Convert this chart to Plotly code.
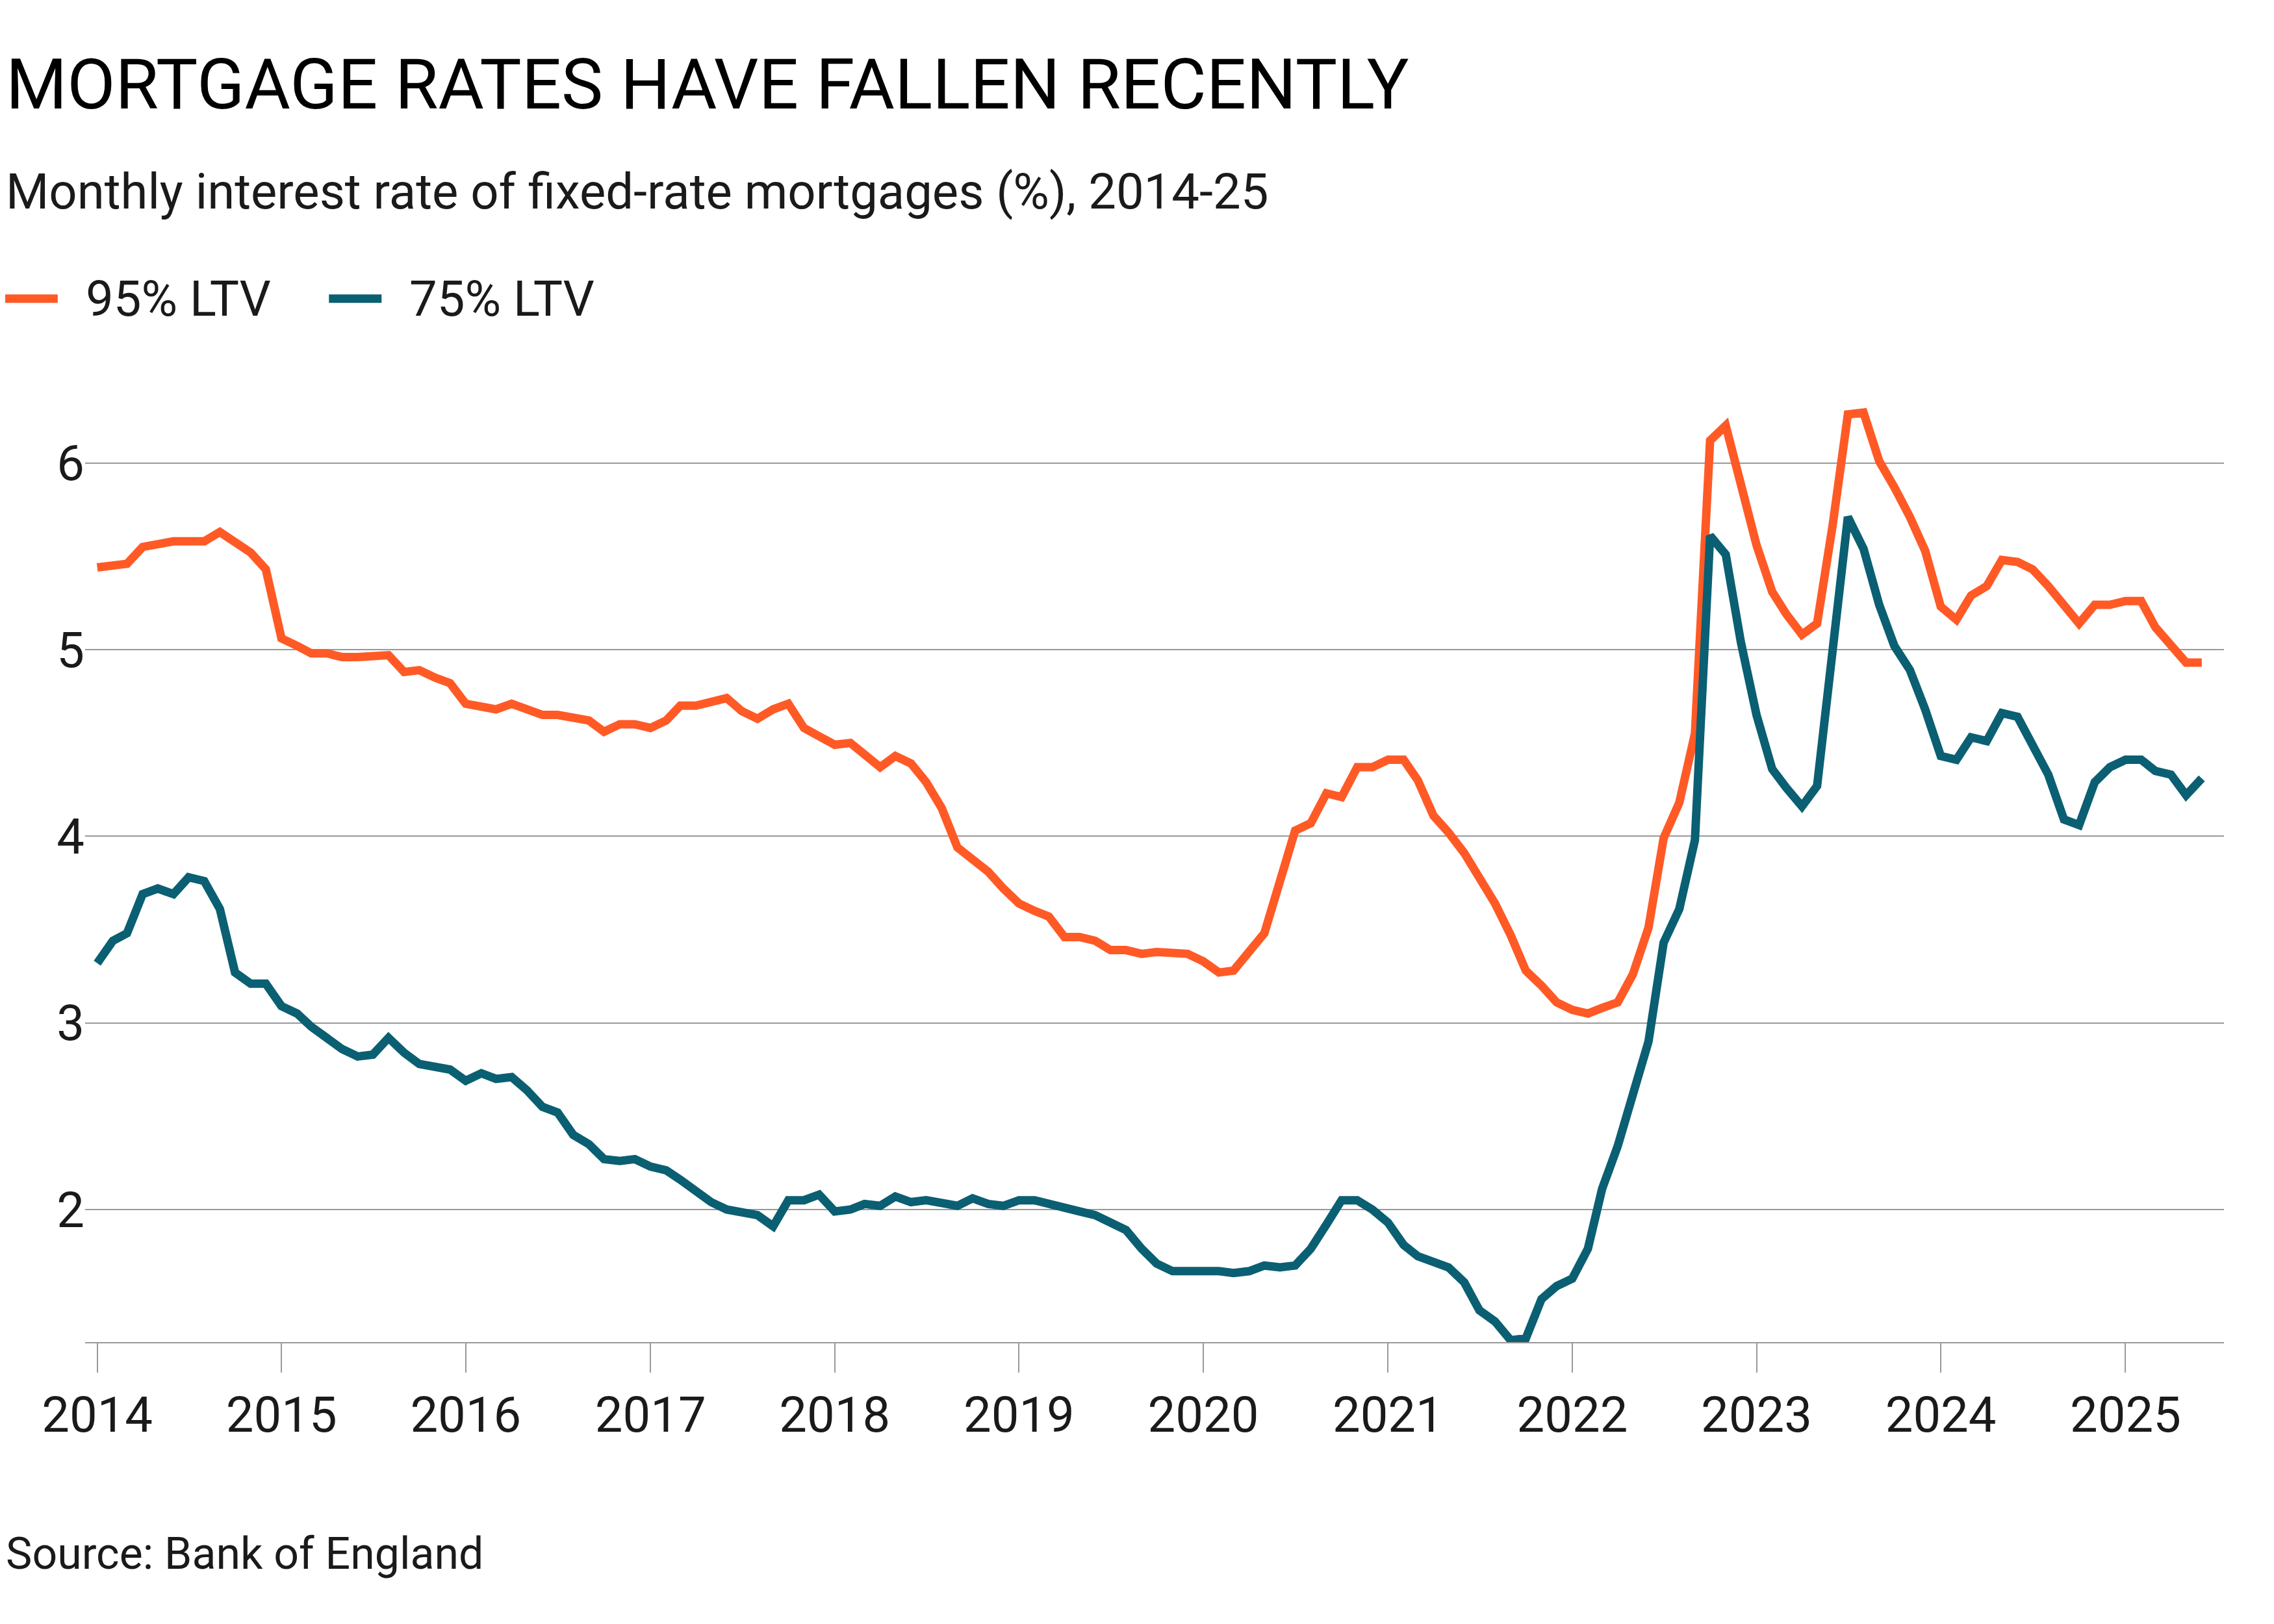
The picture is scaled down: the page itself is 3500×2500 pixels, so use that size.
import pandas as pd
import plotly.graph_objects as go

dates = pd.date_range("2014-01-01", "2025-06-01", freq="MS")

ltv95 = [5.44, 5.45, 5.46, 5.55, 5.57, 5.58, 5.58, 5.58, 5.63, 5.58, 5.52, 5.43,
         5.06, 5.02, 4.98, 4.98, 4.96, 4.96, 4.97, 4.97, 4.88, 4.89, 4.85, 4.82,
         4.71, 4.70, 4.68, 4.71, 4.68, 4.65, 4.65, 4.64, 4.62, 4.56, 4.60, 4.60,
         4.58, 4.62, 4.70, 4.70, 4.72, 4.74, 4.67, 4.63, 4.68, 4.71, 4.58, 4.54,
         4.49, 4.50, 4.44, 4.37, 4.43, 4.39, 4.29, 4.15, 3.94, 3.88, 3.81, 3.72,
         3.64, 3.60, 3.57, 3.46, 3.46, 3.44, 3.39, 3.39, 3.37, 3.38, 3.37, 3.37,
         3.33, 3.27, 3.28, 3.38, 3.48, 3.76, 4.03, 4.07, 4.23, 4.21, 4.37, 4.37,
         4.41, 4.41, 4.30, 4.11, 4.02, 3.91, 3.78, 3.64, 3.47, 3.28, 3.20, 3.11,
         3.07, 3.05, 3.08, 3.11, 3.26, 3.51, 3.99, 4.18, 4.55, 6.12, 6.20, 5.89,
         5.56, 5.31, 5.19, 5.08, 5.14, 5.67, 6.26, 6.27, 6.01, 5.87, 5.71, 5.53,
         5.23, 5.16, 5.29, 5.34, 5.48, 5.47, 5.43, 5.34, 5.23, 5.14, 5.24, 5.24,
         5.26, 5.26, 5.12, 5.03, 4.93, 4.93]

ltv75 = [3.32, 3.44, 3.48, 3.69, 3.72, 3.69, 3.78, 3.76, 3.61, 3.27, 3.21, 3.21,
         3.09, 3.05, 2.98, 2.92, 2.86, 2.82, 2.83, 2.92, 2.84, 2.78, 2.77, 2.75,
         2.69, 2.73, 2.70, 2.71, 2.64, 2.55, 2.52, 2.40, 2.35, 2.27, 2.26, 2.27,
         2.23, 2.21, 2.16, 2.10, 2.04, 2.00, 1.98, 1.97, 1.91, 2.05, 2.05, 2.08,
         1.99, 2.00, 2.03, 2.02, 2.07, 2.04, 2.05, 2.04, 2.02, 2.06, 2.03, 2.02,
         2.05, 2.05, 2.03, 2.00, 1.99, 1.97, 1.93, 1.89, 1.79, 1.71, 1.67, 1.67,
         1.68, 1.67, 1.66, 1.67, 1.70, 1.69, 1.70, 1.79, 1.92, 2.05, 2.05, 2.00,
         1.93, 1.81, 1.75, 1.72, 1.69, 1.61, 1.46, 1.40, 1.30, 1.31, 1.52, 1.59,
         1.63, 1.79, 2.11, 2.34, 2.61, 2.90, 3.43, 3.61, 3.98, 5.61, 5.51, 5.04,
         4.65, 4.36, 4.26, 4.16, 4.27, 5.00, 5.71, 5.54, 5.24, 5.02, 4.89, 4.68,
         4.43, 4.41, 4.53, 4.51, 4.66, 4.64, 4.49, 4.33, 4.09, 4.06, 4.29, 4.37,
         4.41, 4.41, 4.35, 4.33, 4.22, 4.31]

series = [("95% LTV", ltv95, "#ff5a26"), ("75% LTV", ltv75, "#0b5f72")]

FONT = "Liberation Sans Narrow, Roboto, sans-serif"
X0 = -0.0374  # left edge of the page in paper units

fig = go.Figure()
for name, vals, col in series:
    fig.add_trace(go.Scatter(x=dates, y=vals, name=name, mode="lines",
                             line=dict(color=col, width=13)))

fig.update_xaxes(type="date", range=["2013-12-08", "2025-07-15"], automargin=False,
                 dtick="M12", tick0="2014-01-01", tickformat="%Y",
                 ticks="outside", ticklen=45, tickwidth=2, tickcolor="#999999",
                 showline=True, linecolor="#999999", linewidth=2,
                 showgrid=False, tickfont=dict(size=76, color="#1a1a1a"))
fig.update_yaxes(range=[1.29, 6.5], tickvals=[2, 3, 4, 5, 6], automargin=False,
                 showgrid=True, gridcolor="#999999", gridwidth=2,
                 zeroline=False, ticks="", tickfont=dict(size=76, color="#1a1a1a"))

annotations = [
    dict(text="MORTGAGE RATES HAVE FALLEN RECENTLY", x=X0, y=1.293,
         yanchor="middle", font=dict(size=108, color="#000000")),
    dict(text="Monthly interest rate of fixed-rate mortgages (%), 2014-25", x=X0, y=1.183,
         yanchor="middle", font=dict(size=76)),
    dict(text="Source: Bank of England", x=X0, y=-0.218,
         yanchor="middle", font=dict(size=68)),
]
shapes = []
# legend drawn by hand: short line + label
leg_x = [(-0.0374, 0.0), (0.114, 0.1513)]
for (name, vals, col), (lx, tx) in zip(series, leg_x):
    shapes.append(dict(type="line", xref="paper", yref="paper", x0=lx, x1=lx + 0.0246,
                       y0=1.073, y1=1.073, line=dict(color=col, width=13)))
    annotations.append(dict(text=name, x=tx, y=1.073, yanchor="middle", font=dict(size=76)))
for a in annotations:
    a.update(xref="paper", yref="paper", xanchor="left", showarrow=False, borderpad=0)

fig.update_layout(
    width=3500, height=2500,
    margin=dict(l=123, r=85, t=561, b=442),
    paper_bgcolor="white", plot_bgcolor="white",
    font=dict(family=FONT, color="#1a1a1a"),
    showlegend=False,
    annotations=annotations, shapes=shapes,
)

fig.write_html("out.html")
